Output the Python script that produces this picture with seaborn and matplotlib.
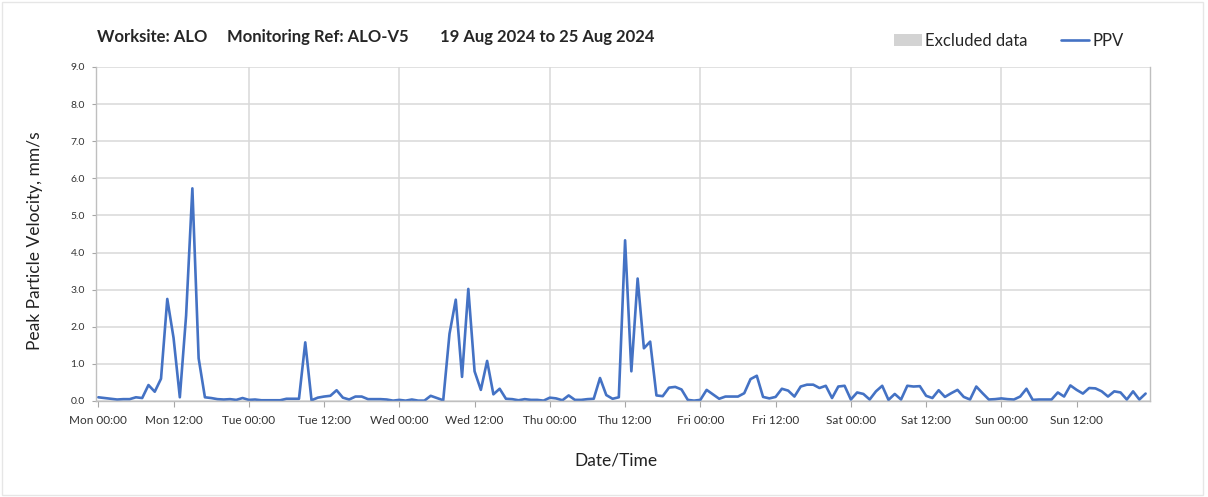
import numpy as np
import pandas as pd
import matplotlib
matplotlib.use("Agg")
import matplotlib.pyplot as plt
import matplotlib.dates as mdates
from matplotlib.patches import Patch
from matplotlib.lines import Line2D
import seaborn as sns

# hourly PPV readings (mm/s), Mon 19 Aug 2024 00:00 onwards
mon_ppv = [0.10, 0.08, 0.06, 0.04, 0.05, 0.05, 0.10, 0.08, 0.43, 0.25, 0.60, 2.75,
           1.70, 0.10, 2.30, 5.73, 1.15, 0.10, 0.08, 0.05, 0.04, 0.05, 0.03, 0.08]
tue_ppv = [0.03, 0.04, 0.02, 0.02, 0.02, 0.02, 0.06, 0.06, 0.06, 1.58, 0.02, 0.09,
           0.12, 0.14, 0.29, 0.09, 0.04, 0.12, 0.12, 0.05, 0.05, 0.05, 0.04, 0.01]
wed_ppv = [0.03, 0.01, 0.04, 0.01, 0.01, 0.14, 0.08, 0.02, 1.81, 2.73, 0.65, 3.02,
           0.80, 0.30, 1.08, 0.18, 0.33, 0.06, 0.05, 0.02, 0.05, 0.03, 0.03, 0.01]
thu_ppv = [0.09, 0.07, 0.02, 0.15, 0.03, 0.03, 0.05, 0.06, 0.62, 0.16, 0.06, 0.10,
           4.33, 0.80, 3.30, 1.42, 1.60, 0.15, 0.13, 0.36, 0.38, 0.31, 0.03, 0.01]
fri_ppv = [0.03, 0.30, 0.18, 0.06, 0.12, 0.12, 0.12, 0.21, 0.59, 0.68, 0.11, 0.07,
           0.11, 0.33, 0.28, 0.12, 0.39, 0.44, 0.44, 0.35, 0.41, 0.08, 0.39, 0.41]
sat_ppv = [0.04, 0.23, 0.19, 0.04, 0.26, 0.41, 0.03, 0.19, 0.04, 0.41, 0.39, 0.40,
           0.14, 0.08, 0.29, 0.11, 0.21, 0.30, 0.11, 0.04, 0.39, 0.21, 0.04, 0.05]
sun_ppv = [0.07, 0.05, 0.04, 0.12, 0.33, 0.03, 0.04, 0.04, 0.04, 0.23, 0.12, 0.42,
           0.30, 0.20, 0.35, 0.34, 0.26, 0.12, 0.26, 0.23, 0.04, 0.26, 0.04, 0.20]

start = pd.Timestamp("2024-08-19 00:00")
y_ticks = np.arange(0, 10, 1.0)

ppv = mon_ppv + tue_ppv + wed_ppv + thu_ppv + fri_ppv + sat_ppv + sun_ppv
df = pd.DataFrame({"time": pd.date_range(start, periods=len(ppv), freq="h"), "PPV": ppv})

sns.set_style("white")
plt.rcParams["font.family"] = ["Lato", "DejaVu Sans"]

blue = "#4472C4"
grid_c = "#d9d9d9"

fig = plt.figure(figsize=(12.08, 4.97), dpi=100)
ax = fig.add_axes([96 / 1208, 1 - 401 / 497, (1150 - 96) / 1208, (401 - 67) / 497])

sns.lineplot(data=df, x="time", y="PPV", ax=ax, color=blue, linewidth=1.9)

ax.set_ylim(0, 9)
ax.set_yticks(y_ticks)
ax.set_yticklabels([f"{v:.1f}" for v in y_ticks], fontsize=7.5, color="#333333")
ax.set_xlim(start - pd.Timedelta(minutes=22), start + pd.Timedelta(hours=167.7))
ax.xaxis.set_major_locator(mdates.HourLocator(byhour=[0, 12]))
ax.xaxis.set_major_formatter(mdates.DateFormatter("%a %H:%M"))
ax.tick_params(axis="x", labelsize=8.5, colors="#333333", length=4, color="#a6a6a6",
               direction="out", bottom=True, pad=6)
ax.tick_params(axis="y", length=3, color="#a6a6a6", left=True, pad=5)

ax.grid(axis="y", color=grid_c, linewidth=1.1)
for d in pd.date_range(start + pd.Timedelta(days=1), periods=6, freq="D"):
    ax.axvline(d, color=grid_c, linewidth=1.1, zorder=0)
for s in ax.spines.values():
    s.set_color("#bfbfbf")
    s.set_linewidth(1.0)
ax.spines["top"].set_visible(False)

ax.set_xlabel("Date/Time", fontsize=12.5, color="#222222")
ax.xaxis.set_label_coords(0.493, -0.153)
ax.set_ylabel("Peak Particle Velocity, mm/s", fontsize=12.5, color="#222222")
ax.yaxis.set_label_coords(-0.050, 0.479)

title_y = 1 - 37 / 497
fig.text(97 / 1208, title_y, "Worksite: ALO", fontsize=12, fontweight="bold",
         va="center", ha="left")
fig.text(227 / 1208, title_y, "Monitoring Ref: ALO-V5", fontsize=12, fontweight="bold",
         va="center", ha="left")
fig.text(440 / 1208, title_y, "19 Aug 2024 to 25 Aug 2024", fontsize=12, fontweight="bold",
         va="center", ha="left")

handles = [Patch(facecolor="#d3d3d3", edgecolor="none"),
           Line2D([], [], color=blue, linewidth=1.9)]
fig.legend(handles, ["Excluded data", "PPV"], loc="center right",
           bbox_to_anchor=(1124 / 1208, 1 - 41 / 497), ncol=2, frameon=False,
           fontsize=12, handlelength=1.7, handletextpad=0.2, columnspacing=2.0,
           borderaxespad=0, borderpad=0)

fig.patches.append(plt.Rectangle((0.002, 0.004), 0.994, 0.992, transform=fig.transFigure,
                                 fill=False, edgecolor="#e6e6e6", linewidth=1))

fig.savefig("out.png", dpi=100)
